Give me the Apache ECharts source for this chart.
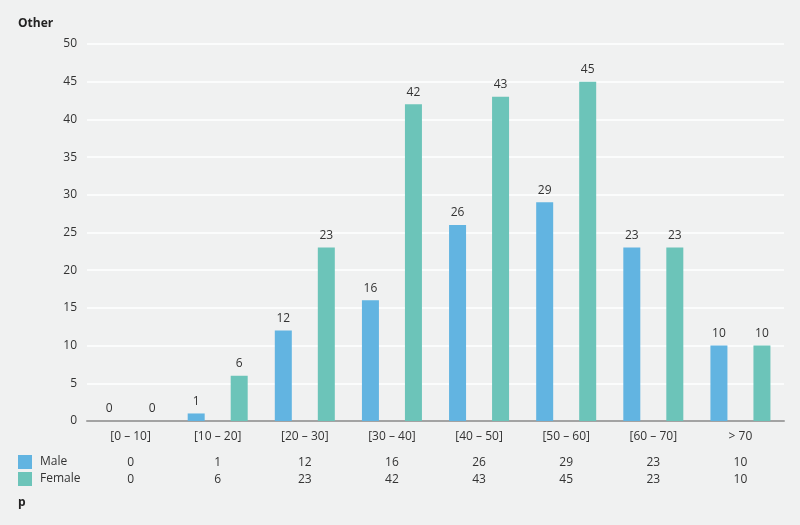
<!DOCTYPE html>
<html>
<head>
<meta charset="utf-8">
<script src="https://cdn.jsdelivr.net/npm/echarts@6/dist/echarts.min.js"></script>
<style>
  html, body { margin: 0; padding: 0; background: #f0f1f1; }
  #main { width: 800px; height: 525px; }
</style>
</head>
<body>
<div id="main"></div>
<script>
// 数据
var categories = ["[0 – 10]", "[10 – 20]", "[20 – 30]", "[30 – 40]", "[40 – 50]", "[50 – 60]", "[60 – 70]", "> 70"];
var male = [0, 1, 12, 16, 26, 29, 23, 10];
var female = [0, 6, 23, 42, 43, 45, 23, 10];
var yTicks = [0, 5, 10, 15, 20, 25, 30, 35, 40, 45, 50];

var font = "Open Sans";
var textColor = "#333";

var myChart = echarts.init(document.getElementById("main"));
myChart.setOption({
  backgroundColor: "#f0f1f1",
  textStyle: { fontFamily: font },
  title: [
    { text: "Other", left: 18, top: 18, padding: 0, textStyle: { fontSize: 12, fontWeight: "bold", color: "#222", fontFamily: font } },
    { text: "p", left: 18, top: 497, padding: 0, textStyle: { fontSize: 12, fontWeight: "bold", color: "#222", fontFamily: font } }
  ],
  legend: {
    orient: "vertical",
    left: 18,
    top: 455,
    padding: 0,
    itemWidth: 14,
    itemHeight: 14,
    itemGap: 3,
    icon: "rect",
    textStyle: { fontSize: 12, color: textColor, fontFamily: font, padding: [0, 0, 0, 3] },
    data: ["Male", "Female"]
  },
  grid: { left: 87, right: 16, top: 44, bottom: 104 },
  xAxis: [
    {
      type: "category",
      data: categories,
      axisLine: { lineStyle: { color: "#a3a3a3", width: 2 } },
      axisTick: { show: false },
      axisLabel: { color: textColor, fontSize: 12, margin: 10, fontFamily: font }
    },
    {
      type: "category",
      data: male.map(String),
      position: "bottom",
      offset: 26,
      axisLine: { show: false },
      axisTick: { show: false },
      axisLabel: { color: textColor, fontSize: 12, margin: 10, fontFamily: font }
    },
    {
      type: "category",
      data: female.map(String),
      position: "bottom",
      offset: 43,
      axisLine: { show: false },
      axisTick: { show: false },
      axisLabel: { color: textColor, fontSize: 12, margin: 10, fontFamily: font }
    }
  ],
  yAxis: {
    type: "value",
    min: yTicks[0],
    max: yTicks[yTicks.length - 1],
    interval: 5,
    axisLine: { show: false },
    axisTick: { show: false },
    axisLabel: { color: textColor, fontSize: 12, margin: 10, fontFamily: font },
    splitLine: { lineStyle: { color: "#ffffff", width: 1.5 } }
  },
  series: [
    {
      name: "Male",
      type: "bar",
      data: male,
      barWidth: 17,
      barGap: "153%",
      itemStyle: { color: "#62b4e1" },
      label: { show: true, position: "top", distance: 6, color: textColor, fontSize: 12, fontFamily: font }
    },
    {
      name: "Female",
      type: "bar",
      data: female,
      barWidth: 17,
      itemStyle: { color: "#6cc4b9" },
      label: { show: true, position: "top", distance: 6, color: textColor, fontSize: 12, fontFamily: font }
    }
  ]
});
</script>
</body>
</html>
